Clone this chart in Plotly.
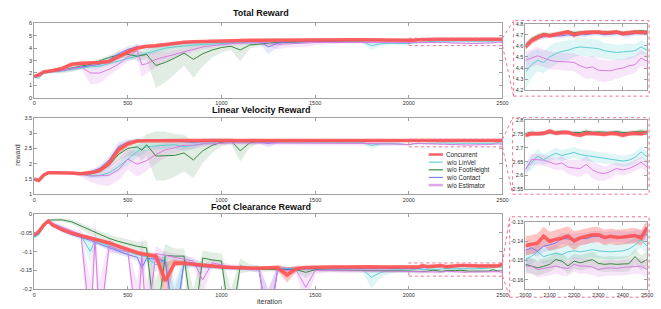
import plotly.graph_objects as go

W, H = 661, 309

# ---------------- data ----------------
iters_main = [0, 25, 50, 75, 100, 150, 200, 250, 300, 325, 350, 400, 450, 500, 550, 575] + list(range(600, 2000, 50))
iters_zoom = list(range(2000, 2501, 25))

methods = ["Concurrent", "w/o LinVel", "w/o FootHeight", "w/o Contact", "w/o Estimator"]

# Total Reward (main part 0..1950, zoom part 2000..2500)
tot_conc = [1.72, 1.85, 2.08, 2.12, 2.2, 2.37, 2.7, 2.78, 2.8, 2.82, 2.85, 2.92, 3.3, 3.7, 4.0, 4.08,
            4.15, 4.2, 4.3, 4.4, 4.47, 4.52, 4.55, 4.55, 4.57, 4.6, 4.62, 4.63, 4.64, 4.64, 4.65, 4.65,
            4.66, 4.66, 4.66, 4.66, 4.67, 4.67, 4.67, 4.67, 4.66, 4.65, 4.64, 4.62]
tot_linvel = [1.65, 1.6, 1.95, 2.05, 2.1, 2.2, 2.3, 2.45, 2.5, 2.52, 2.55, 2.75, 2.95, 3.2, 3.4, 3.5,
              3.55, 3.8, 4.0, 4.1, 4.2, 4.25, 4.3, 4.35, 4.4, 4.45, 4.45, 4.45, 4.5, 4.5, 4.5, 4.5,
              4.52, 4.52, 4.55, 4.55, 4.55, 4.57, 4.58, 4.55, 4.2, 4.35, 4.4, 4.38]
tot_foot = [1.75, 1.9, 2.05, 2.1, 2.15, 2.2, 2.4, 2.55, 2.7, 2.85, 3.0, 3.25, 3.45, 3.5, 3.35, 3.45,
            3.5, 2.6, 2.85, 3.2, 3.6, 3.1, 3.55, 3.85, 4.05, 4.15, 3.85, 4.25, 4.35, 4.4, 4.45, 4.48,
            4.5, 4.52, 4.55, 4.56, 4.58, 4.6, 4.6, 4.6, 4.61, 4.62, 4.62, 4.62]
tot_contact = [1.75, 1.9, 2.05, 2.08, 2.1, 2.2, 2.35, 2.5, 2.6, 2.65, 2.7, 3.05, 3.55, 3.9, 4.1, 4.1,
               4.05, 4.15, 4.25, 4.35, 4.4, 4.45, 4.45, 4.5, 4.5, 4.5, 4.55, 4.55, 4.55, 4.1, 4.4, 4.5,
               4.5, 4.55, 4.55, 4.56, 4.57, 4.58, 4.58, 4.6, 4.6, 4.6, 4.6, 4.6]
tot_est = [1.75, 1.9, 2.05, 2.08, 2.1, 2.2, 2.35, 2.5, 2.0, 2.0, 2.0, 2.3, 2.7, 3.3, 3.8, 2.65,
           2.75, 3.1, 3.3, 3.55, 3.75, 3.95, 4.1, 4.2, 4.3, 4.35, 4.4, 4.4, 4.45, 4.45, 4.3, 4.35,
           4.4, 4.4, 4.45, 4.45, 4.45, 4.5, 4.5, 4.5, 4.5, 4.5, 4.5, 4.48]

tot_conc_z = [4.59, 4.645, 4.675, 4.70, 4.69, 4.70, 4.71, 4.725, 4.70, 4.715, 4.72, 4.725, 4.725, 4.715, 4.72, 4.725, 4.71, 4.715, 4.725, 4.72, 4.72]
tot_linvel_z = [4.36, 4.43, 4.47, 4.45, 4.50, 4.53, 4.55, 4.56, 4.58, 4.59, 4.585, 4.58, 4.575, 4.555, 4.545, 4.54, 4.545, 4.55, 4.555, 4.59, 4.56]
tot_foot_z = [4.60, 4.66, 4.69, 4.71, 4.70, 4.71, 4.72, 4.73, 4.72, 4.725, 4.73, 4.73, 4.72, 4.73, 4.72, 4.73, 4.72, 4.725, 4.73, 4.735, 4.73]
tot_contact_z = [4.60, 4.65, 4.67, 4.68, 4.69, 4.69, 4.69, 4.70, 4.69, 4.70, 4.70, 4.71, 4.71, 4.70, 4.705, 4.71, 4.70, 4.70, 4.71, 4.71, 4.71]
tot_est_z = [4.47, 4.49, 4.51, 4.49, 4.47, 4.46, 4.46, 4.455, 4.45, 4.42, 4.40, 4.41, 4.38, 4.375, 4.375, 4.39, 4.40, 4.42, 4.43, 4.49, 4.46]

tot_conc_sd = [0.08, 0.08, 0.08, 0.08, 0.1, 0.15, 0.15, 0.12, 0.1, 0.1, 0.1, 0.15, 0.2, 0.25, 0.2, 0.15,
               0.12, 0.1, 0.1, 0.08, 0.08, 0.06, 0.06, 0.06, 0.06, 0.05, 0.05, 0.05, 0.05, 0.05, 0.05, 0.05,
               0.05, 0.05, 0.05, 0.05, 0.05, 0.05, 0.05, 0.05, 0.05, 0.05, 0.05, 0.05]
tot_linvel_sd = [0.08, 0.08, 0.08, 0.08, 0.1, 0.15, 0.15, 0.15, 0.15, 0.15, 0.15, 0.15, 0.2, 0.2, 0.2, 0.2,
                 0.2, 0.2, 0.2, 0.15, 0.15, 0.15, 0.12, 0.12, 0.1, 0.1, 0.1, 0.1, 0.1, 0.1, 0.1, 0.1,
                 0.1, 0.1, 0.1, 0.1, 0.1, 0.1, 0.1, 0.1, 0.35, 0.2, 0.15, 0.12]
tot_foot_sd = [0.05, 0.05, 0.08, 0.1, 0.15, 0.25, 0.3, 0.25, 0.2, 0.2, 0.2, 0.2, 0.25, 0.3, 0.4, 0.4,
               0.4, 1.8, 1.6, 1.3, 1.0, 1.5, 1.0, 0.6, 0.4, 0.3, 0.9, 0.3, 0.2, 0.15, 0.15, 0.12,
               0.12, 0.1, 0.1, 0.1, 0.1, 0.1, 0.08, 0.08, 0.08, 0.08, 0.08, 0.08]
tot_contact_sd = [0.08, 0.08, 0.08, 0.08, 0.1, 0.12, 0.12, 0.12, 0.12, 0.12, 0.15, 0.2, 0.25, 0.25, 0.2, 0.2,
                  0.2, 0.15, 0.12, 0.1, 0.1, 0.1, 0.1, 0.08, 0.08, 0.08, 0.08, 0.1, 0.15, 0.6, 0.3, 0.15,
                  0.1, 0.1, 0.08, 0.08, 0.08, 0.08, 0.08, 0.08, 0.08, 0.08, 0.08, 0.08]
tot_est_sd = [0.08, 0.08, 0.08, 0.08, 0.1, 0.12, 0.15, 0.2, 0.9, 0.9, 0.8, 0.5, 0.4, 0.4, 0.6, 1.0,
              0.8, 0.6, 0.4, 0.3, 0.3, 0.25, 0.2, 0.2, 0.15, 0.15, 0.15, 0.15, 0.15, 0.3, 0.4, 0.3,
              0.3, 0.3, 0.2, 0.15, 0.12, 0.1, 0.1, 0.1, 0.1, 0.1, 0.1, 0.1]

tot_conc_zsd = [0.03, 0.03, 0.03, 0.02, 0.02, 0.02, 0.02, 0.02, 0.025, 0.02, 0.02, 0.02, 0.02, 0.02, 0.02, 0.02, 0.02, 0.02, 0.02, 0.02, 0.02]
tot_linvel_zsd = [0.15, 0.12, 0.1, 0.1, 0.1, 0.1, 0.09, 0.09, 0.08, 0.08, 0.08, 0.08, 0.08, 0.07, 0.07, 0.07, 0.07, 0.07, 0.06, 0.06, 0.06]
tot_foot_zsd = [0.03, 0.025, 0.02, 0.02, 0.02, 0.02, 0.02, 0.015, 0.015, 0.015, 0.015, 0.015, 0.015, 0.015, 0.015, 0.015, 0.015, 0.015, 0.015, 0.015, 0.015]
tot_contact_zsd = [0.03, 0.025, 0.02, 0.02, 0.02, 0.02, 0.02, 0.02, 0.02, 0.02, 0.02, 0.02, 0.02, 0.02, 0.02, 0.02, 0.02, 0.02, 0.02, 0.02, 0.02]
tot_est_zsd = [0.08, 0.08, 0.08, 0.08, 0.08, 0.08, 0.08, 0.08, 0.08, 0.09, 0.1, 0.1, 0.1, 0.1, 0.09, 0.09, 0.08, 0.08, 0.08, 0.07, 0.07]

# Linear Velocity Reward
lin_conc = [1.5, 1.45, 1.62, 1.7, 1.7, 1.7, 1.69, 1.67, 1.7, 1.73, 1.78, 2.02, 2.45, 2.65, 2.74, 2.75,
            2.75, 2.75, 2.76, 2.76, 2.76, 2.76, 2.76, 2.76, 2.76, 2.76, 2.75, 2.75, 2.75, 2.75, 2.75, 2.75,
            2.75, 2.75, 2.75, 2.75, 2.75, 2.75, 2.75, 2.75, 2.75, 2.75, 2.75, 2.75]
lin_linvel = [1.45, 1.42, 1.6, 1.7, 1.7, 1.7, 1.68, 1.65, 1.6, 1.6, 1.62, 1.7, 1.9, 2.15, 2.4, 2.48,
              2.55, 2.58, 2.6, 2.62, 2.55, 2.6, 2.67, 2.7, 2.7, 2.7, 2.7, 2.7, 2.7, 2.7, 2.7, 2.7,
              2.7, 2.7, 2.7, 2.7, 2.7, 2.7, 2.7, 2.7, 2.6, 2.65, 2.66, 2.65]
lin_foot = [1.5, 1.45, 1.62, 1.7, 1.7, 1.7, 1.69, 1.67, 1.66, 1.7, 1.75, 1.95, 2.3, 2.5, 2.55, 2.44,
            2.62, 2.25, 2.25, 2.27, 2.35, 2.12, 2.42, 2.6, 2.7, 2.75, 2.42, 2.68, 2.74, 2.75, 2.75, 2.75,
            2.76, 2.76, 2.76, 2.76, 2.76, 2.76, 2.76, 2.76, 2.76, 2.76, 2.76, 2.76]
lin_contact = [1.5, 1.45, 1.62, 1.7, 1.7, 1.7, 1.69, 1.68, 1.72, 1.78, 1.85, 2.12, 2.55, 2.7, 2.75, 2.75,
               2.75, 2.75, 2.75, 2.75, 2.72, 2.7, 2.72, 2.74, 2.74, 2.75, 2.75, 2.75, 2.72, 2.66, 2.72, 2.74,
               2.74, 2.74, 2.74, 2.74, 2.74, 2.74, 2.74, 2.74, 2.74, 2.74, 2.74, 2.74]
lin_est = [1.5, 1.45, 1.62, 1.7, 1.7, 1.7, 1.69, 1.65, 1.6, 1.6, 1.6, 1.62, 1.8, 2.15, 1.98, 2.05,
           2.1, 2.3, 2.45, 2.52, 2.6, 2.6, 2.65, 2.65, 2.67, 2.68, 2.68, 2.68, 2.68, 2.66, 2.66, 2.66,
           2.66, 2.66, 2.66, 2.66, 2.66, 2.66, 2.66, 2.66, 2.66, 2.65, 2.65, 2.64]

lin_conc_z = [2.745, 2.75, 2.75, 2.752, 2.76, 2.752, 2.755, 2.755, 2.748, 2.745, 2.752, 2.752, 2.75, 2.748, 2.752, 2.75, 2.745, 2.75, 2.752, 2.75, 2.755]
lin_linvel_z = [2.625, 2.645, 2.67, 2.657, 2.67, 2.68, 2.672, 2.678, 2.683, 2.675, 2.672, 2.667, 2.665, 2.662, 2.66, 2.657, 2.652, 2.655, 2.665, 2.685, 2.667]
lin_foot_z = [2.75, 2.755, 2.75, 2.752, 2.755, 2.755, 2.758, 2.755, 2.755, 2.755, 2.76, 2.755, 2.757, 2.756, 2.755, 2.758, 2.755, 2.755, 2.758, 2.76, 2.758]
lin_contact_z = [2.745, 2.755, 2.75, 2.75, 2.755, 2.752, 2.755, 2.755, 2.752, 2.75, 2.752, 2.755, 2.75, 2.752, 2.752, 2.755, 2.75, 2.752, 2.752, 2.752, 2.755]
lin_est_z = [2.62, 2.657, 2.657, 2.655, 2.648, 2.64, 2.645, 2.63, 2.627, 2.625, 2.64, 2.62, 2.61, 2.607, 2.615, 2.625, 2.62, 2.625, 2.635, 2.648, 2.63]

lin_conc_sd = [0.03, 0.03, 0.03, 0.03, 0.03, 0.03, 0.03, 0.03, 0.04, 0.05, 0.06, 0.12, 0.15, 0.1, 0.05, 0.03,
               0.02, 0.02, 0.02, 0.02, 0.02, 0.02, 0.02, 0.02, 0.02, 0.03, 0.04, 0.02, 0.02, 0.02, 0.02, 0.02,
               0.02, 0.02, 0.02, 0.02, 0.02, 0.02, 0.02, 0.02, 0.02, 0.02, 0.02, 0.02]
lin_linvel_sd = [0.03, 0.03, 0.03, 0.03, 0.03, 0.04, 0.04, 0.05, 0.08, 0.08, 0.1, 0.12, 0.15, 0.2, 0.2, 0.2,
                 0.15, 0.12, 0.12, 0.12, 0.15, 0.12, 0.08, 0.06, 0.04, 0.04, 0.04, 0.04, 0.04, 0.04, 0.04, 0.04,
                 0.04, 0.04, 0.04, 0.04, 0.04, 0.04, 0.04, 0.04, 0.1, 0.06, 0.05, 0.04]
lin_foot_sd = [0.03, 0.03, 0.03, 0.03, 0.03, 0.03, 0.03, 0.04, 0.05, 0.06, 0.08, 0.12, 0.2, 0.25, 0.3, 0.35,
               0.35, 0.8, 0.8, 0.7, 0.6, 0.6, 0.4, 0.25, 0.15, 0.1, 0.35, 0.15, 0.08, 0.05, 0.03, 0.03,
               0.03, 0.03, 0.03, 0.03, 0.03, 0.03, 0.03, 0.03, 0.03, 0.03, 0.03, 0.03]
lin_contact_sd = [0.03, 0.03, 0.03, 0.03, 0.03, 0.03, 0.03, 0.03, 0.05, 0.08, 0.1, 0.15, 0.15, 0.1, 0.05, 0.04,
                  0.03, 0.03, 0.03, 0.03, 0.05, 0.06, 0.05, 0.04, 0.03, 0.03, 0.03, 0.03, 0.06, 0.12, 0.06, 0.03,
                  0.03, 0.03, 0.03, 0.03, 0.03, 0.03, 0.03, 0.03, 0.03, 0.03, 0.03, 0.03]
lin_est_sd = [0.03, 0.03, 0.03, 0.03, 0.03, 0.04, 0.05, 0.08, 0.2, 0.25, 0.3, 0.35, 0.35, 0.35, 0.4, 0.4,
              0.35, 0.3, 0.25, 0.2, 0.15, 0.12, 0.1, 0.08, 0.06, 0.06, 0.06, 0.06, 0.06, 0.06, 0.06, 0.06,
              0.06, 0.06, 0.06, 0.06, 0.06, 0.06, 0.06, 0.06, 0.06, 0.06, 0.06, 0.06]

lin_conc_zsd = [0.009, 0.008, 0.008, 0.008, 0.008, 0.008, 0.008, 0.008, 0.008, 0.008, 0.008, 0.008, 0.008, 0.008, 0.008, 0.008, 0.008, 0.008, 0.008, 0.008, 0.008]
lin_linvel_zsd = [0.02, 0.025, 0.025, 0.02, 0.02, 0.02, 0.02, 0.02, 0.02, 0.02, 0.02, 0.02, 0.02, 0.02, 0.02, 0.02, 0.02, 0.02, 0.02, 0.02, 0.02]
lin_foot_zsd = [0.008, 0.007, 0.007, 0.007, 0.007, 0.007, 0.007, 0.007, 0.007, 0.007, 0.007, 0.007, 0.007, 0.007, 0.007, 0.007, 0.007, 0.007, 0.007, 0.007, 0.007]
lin_contact_zsd = [0.008, 0.007, 0.007, 0.007, 0.007, 0.007, 0.007, 0.007, 0.007, 0.007, 0.007, 0.007, 0.007, 0.007, 0.007, 0.007, 0.007, 0.007, 0.007, 0.007, 0.007]
lin_est_zsd = [0.02, 0.02, 0.02, 0.02, 0.02, 0.02, 0.025, 0.025, 0.03, 0.03, 0.03, 0.03, 0.03, 0.025, 0.025, 0.02, 0.02, 0.02, 0.02, 0.02, 0.02]

# Foot Clearance Reward
foot_conc = [-0.056, -0.047, -0.03, -0.019, -0.03, -0.042, -0.051, -0.057, -0.063, -0.066, -0.069, -0.077, -0.086, -0.095, -0.103, -0.106,
             -0.108, -0.112, -0.178, -0.13, -0.131, -0.134, -0.137, -0.138, -0.141, -0.142, -0.143, -0.144, -0.144, -0.143, -0.143, -0.162,
             -0.145, -0.142, -0.141, -0.141, -0.141, -0.141, -0.14, -0.141, -0.14, -0.141, -0.141, -0.141]
foot_linvel = [-0.062, -0.055, -0.035, -0.02, -0.028, -0.04, -0.05, -0.058, -0.1, -0.07, -0.075, -0.085, -0.095, -0.1, -0.108, -0.112,
               -0.115, -0.135, -0.12, -0.3, -0.128, -0.13, -0.135, -0.14, -0.142, -0.143, -0.144, -0.145, -0.145, -0.145, -0.145, -0.145,
               -0.145, -0.145, -0.145, -0.145, -0.145, -0.145, -0.145, -0.145, -0.168, -0.155, -0.15, -0.148]
foot_foot = [-0.058, -0.045, -0.028, -0.017, -0.016, -0.016, -0.021, -0.032, -0.045, -0.05, -0.055, -0.065, -0.073, -0.08, -0.086, -0.088,
             -0.09, -0.3, -0.11, -0.112, -0.112, -0.3, -0.117, -0.122, -0.125, -0.3, -0.138, -0.143, -0.146, -0.147, -0.147, -0.148,
             -0.148, -0.155, -0.148, -0.149, -0.149, -0.15, -0.15, -0.15, -0.15, -0.15, -0.151, -0.151]
foot_contact = [-0.06, -0.052, -0.032, -0.02, -0.03, -0.045, -0.055, -0.062, -0.07, -0.075, -0.08, -0.09, -0.1, -0.108, -0.115, -0.143,
                -0.118, -0.12, -0.125, -0.3, -0.13, -0.135, -0.14, -0.14, -0.143, -0.145, -0.145, -0.146, -0.147, -0.3, -0.146, -0.146,
                -0.146, -0.146, -0.146, -0.146, -0.146, -0.146, -0.146, -0.146, -0.146, -0.146, -0.146, -0.146]
foot_est = [-0.058, -0.05, -0.03, -0.018, -0.025, -0.035, -0.045, -0.055, -0.3, -0.065, -0.3, -0.085, -0.095, -0.1, -0.3, -0.11,
            -0.3, -0.105, -0.11, -0.115, -0.12, -0.125, -0.175, -0.13, -0.135, -0.14, -0.14, -0.145, -0.145, -0.3, -0.148, -0.15,
            -0.15, -0.195, -0.15, -0.15, -0.15, -0.151, -0.151, -0.151, -0.152, -0.152, -0.152, -0.152]

foot_conc_z = [-0.1422, -0.1418, -0.1410, -0.1374, -0.1400, -0.1390, -0.1384, -0.1372, -0.1398, -0.1382, -0.1375, -0.1366, -0.1366, -0.1380, -0.1374, -0.1380, -0.1378, -0.1374, -0.1370, -0.1383, -0.1328]
foot_linvel_z = [-0.1495, -0.1478, -0.1455, -0.1480, -0.1470, -0.1462, -0.1470, -0.1455, -0.1450, -0.1455, -0.1450, -0.1443, -0.1450, -0.1452, -0.1455, -0.1452, -0.1450, -0.1440, -0.1420, -0.1392, -0.1426]
foot_foot_z = [-0.1520, -0.1529, -0.1538, -0.1530, -0.1520, -0.1495, -0.1503, -0.1528, -0.1503, -0.1512, -0.1505, -0.1495, -0.1515, -0.1520, -0.1517, -0.1520, -0.1518, -0.1517, -0.1480, -0.1512, -0.1495]
foot_contact_z = [-0.1448, -0.1434, -0.1452, -0.1426, -0.1418, -0.1409, -0.1385, -0.1388, -0.1391, -0.1386, -0.1386, -0.1376, -0.1374, -0.1383, -0.1378, -0.1374, -0.1378, -0.1380, -0.1372, -0.1370, -0.1366]
foot_est_z = [-0.1529, -0.1529, -0.1547, -0.1541, -0.1538, -0.1529, -0.1538, -0.1541, -0.1520, -0.1529, -0.1529, -0.1534, -0.1547, -0.1540, -0.1538, -0.1541, -0.1536, -0.1534, -0.1529, -0.1529, -0.1547]

foot_conc_sd = [0.004, 0.004, 0.004, 0.003, 0.004, 0.005, 0.005, 0.005, 0.005, 0.005, 0.005, 0.005, 0.005, 0.005, 0.006, 0.006,
                0.006, 0.008, 0.05, 0.01, 0.006, 0.005, 0.005, 0.005, 0.004, 0.004, 0.004, 0.004, 0.004, 0.004, 0.008, 0.02,
                0.008, 0.004, 0.004, 0.004, 0.004, 0.004, 0.004, 0.004, 0.004, 0.004, 0.004, 0.004]
foot_linvel_sd = [0.004, 0.004, 0.004, 0.003, 0.004, 0.005, 0.005, 0.005, 0.03, 0.01, 0.008, 0.008, 0.008, 0.008, 0.008, 0.01,
                  0.01, 0.02, 0.02, 0.12, 0.02, 0.01, 0.008, 0.006, 0.005, 0.005, 0.005, 0.005, 0.005, 0.005, 0.005, 0.005,
                  0.005, 0.005, 0.005, 0.005, 0.005, 0.005, 0.005, 0.005, 0.03, 0.015, 0.008, 0.006]
foot_foot_sd = [0.004, 0.004, 0.004, 0.003, 0.004, 0.005, 0.006, 0.008, 0.01, 0.01, 0.01, 0.01, 0.012, 0.012, 0.012, 0.015,
                0.02, 0.12, 0.03, 0.02, 0.02, 0.1, 0.02, 0.02, 0.02, 0.1, 0.02, 0.01, 0.008, 0.006, 0.006, 0.006,
                0.006, 0.015, 0.006, 0.005, 0.005, 0.005, 0.005, 0.005, 0.005, 0.005, 0.005, 0.005]
foot_contact_sd = [0.004, 0.004, 0.004, 0.003, 0.004, 0.005, 0.005, 0.005, 0.006, 0.006, 0.006, 0.008, 0.008, 0.008, 0.01, 0.02,
                   0.01, 0.01, 0.01, 0.1, 0.01, 0.008, 0.006, 0.006, 0.005, 0.005, 0.005, 0.005, 0.01, 0.1, 0.01, 0.005,
                   0.005, 0.005, 0.005, 0.005, 0.005, 0.005, 0.005, 0.005, 0.005, 0.005, 0.005, 0.005]
foot_est_sd = [0.004, 0.004, 0.004, 0.003, 0.004, 0.005, 0.006, 0.01, 0.12, 0.05, 0.12, 0.02, 0.01, 0.01, 0.12, 0.05,
               0.12, 0.02, 0.01, 0.01, 0.01, 0.01, 0.04, 0.01, 0.008, 0.006, 0.006, 0.006, 0.006, 0.1, 0.01, 0.008,
               0.01, 0.05, 0.01, 0.006, 0.005, 0.005, 0.005, 0.005, 0.005, 0.005, 0.005, 0.005]

foot_conc_zsd = [0.005, 0.005, 0.005, 0.005, 0.005, 0.005, 0.005, 0.005, 0.005, 0.004, 0.004, 0.004, 0.004, 0.004, 0.004, 0.004, 0.004, 0.004, 0.004, 0.004, 0.004]
foot_linvel_zsd = [0.004, 0.004, 0.004, 0.004, 0.004, 0.004, 0.004, 0.004, 0.004, 0.004, 0.004, 0.004, 0.004, 0.004, 0.004, 0.004, 0.004, 0.004, 0.004, 0.004, 0.004]
foot_foot_zsd = [0.004, 0.004, 0.004, 0.004, 0.004, 0.004, 0.004, 0.004, 0.004, 0.004, 0.004, 0.004, 0.004, 0.004, 0.004, 0.004, 0.004, 0.004, 0.004, 0.004, 0.004]
foot_contact_zsd = [0.003, 0.003, 0.003, 0.003, 0.003, 0.003, 0.003, 0.003, 0.003, 0.003, 0.003, 0.003, 0.003, 0.003, 0.003, 0.003, 0.003, 0.003, 0.003, 0.003, 0.003]
foot_est_zsd = [0.004, 0.004, 0.004, 0.004, 0.004, 0.004, 0.004, 0.004, 0.004, 0.004, 0.004, 0.004, 0.004, 0.004, 0.004, 0.004, 0.004, 0.004, 0.004, 0.004, 0.004]

# tick labels
main_x_ticks = [0, 500, 1000, 1500, 2000, 2500]
tot_y_ticks = [0, 1, 2, 3, 4, 5, 6]
lin_y_ticks = [1, 1.5, 2, 2.5, 3, 3.5]
foot_y_ticks = [0, -0.05, -0.1, -0.15, -0.2]
tot_zoom_ticks = [4.2, 4.3, 4.4, 4.5, 4.6, 4.7, 4.8]
lin_zoom_ticks = [2.55, 2.6, 2.65, 2.7, 2.75, 2.8]
foot_zoom_ticks = [-0.13, -0.14, -0.15, -0.16]
zoom_x_ticks = [2000, 2100, 2200, 2300, 2400, 2500]

# ---------------- style ----------------
line_colors = ["rgba(255,85,85,0.92)", "rgb(95,205,210)", "rgb(55,135,65)", "rgb(120,120,240)", "rgb(215,125,225)"]
legend_colors = ["rgb(245,95,105)", "rgb(110,210,210)", "rgb(60,140,70)", "rgb(130,130,240)", "rgb(225,165,235)"]
band_colors = ["rgba(255,85,85,0.35)", "rgba(95,205,210,0.2)", "rgba(55,135,65,0.15)", "rgba(120,120,240,0.18)", "rgba(215,125,225,0.2)"]
line_widths = [3.5, 1, 1, 1, 1]
PINK = "rgb(240,110,145)"

panels = [
    dict(title="Total Reward",
         main=[tot_conc, tot_linvel, tot_foot, tot_contact, tot_est],
         zoom=[tot_conc_z, tot_linvel_z, tot_foot_z, tot_contact_z, tot_est_z],
         main_sd=[tot_conc_sd, tot_linvel_sd, tot_foot_sd, tot_contact_sd, tot_est_sd],
         zoom_sd=[tot_conc_zsd, tot_linvel_zsd, tot_foot_zsd, tot_contact_zsd, tot_est_zsd],
         yr=[0, 6], yt=tot_y_ticks, zr=[4.2, 4.8], zt=tot_zoom_ticks,
         main_dom=[0.687, 0.933], zoom_dom=[0.712, 0.932], box=(517, 18, 655, 95), title_y=10.5, zxlab=False),
    dict(title="Linear Velocity Reward",
         main=[lin_conc, lin_linvel, lin_foot, lin_contact, lin_est],
         zoom=[lin_conc_z, lin_linvel_z, lin_foot_z, lin_contact_z, lin_est_z],
         main_sd=[lin_conc_sd, lin_linvel_sd, lin_foot_sd, lin_contact_sd, lin_est_sd],
         zoom_sd=[lin_conc_zsd, lin_linvel_zsd, lin_foot_zsd, lin_contact_zsd, lin_est_zsd],
         yr=[1, 3.5], yt=lin_y_ticks, zr=[2.55, 2.8], zt=lin_zoom_ticks,
         main_dom=[0.369, 0.621], zoom_dom=[0.385, 0.614], box=(516, 117, 655, 195), title_y=109.5, zxlab=False),
    dict(title="Foot Clearance Reward",
         main=[foot_conc, foot_linvel, foot_foot, foot_contact, foot_est],
         zoom=[foot_conc_z, foot_linvel_z, foot_foot_z, foot_contact_z, foot_est_z],
         main_sd=[foot_conc_sd, foot_linvel_sd, foot_foot_sd, foot_contact_sd, foot_est_sd],
         zoom_sd=[foot_conc_zsd, foot_linvel_zsd, foot_foot_zsd, foot_contact_zsd, foot_est_zsd],
         yr=[-0.2, 0], yt=foot_y_ticks, zr=[-0.165, -0.13], zt=foot_zoom_ticks,
         main_dom=[0.055, 0.304], zoom_dom=[0.055, 0.277], box=(513, 218, 655, 300), title_y=208.5, zxlab=True),
]

for p in panels:
    for arr in p["main"] + p["main_sd"]:
        if len(arr) != len(iters_main):
            raise ValueError(f"{p['title']}: main length {len(arr)}")
    for arr in p["zoom"] + p["zoom_sd"]:
        if len(arr) != len(iters_zoom):
            raise ValueError(f"{p['title']}: zoom length {len(arr)}")

MAIN_X = [0.0434, 0.765]
ZOOM_X = [0.8003, 0.9879]


def fmt(v):
    return f"{v:g}"


fig = go.Figure()
draw_order = [1, 2, 3, 4, 0]
for i, p in enumerate(panels):
    ax_main = 2 * i + 1
    ax_zoom = 2 * i + 2
    for kind in ("main", "zoom"):
        if kind == "main":
            xs = iters_main + iters_zoom
            axn = ax_main
        else:
            xs = iters_zoom
            axn = ax_zoom
        xref = "x" if axn == 1 else f"x{axn}"
        yref = "y" if axn == 1 else f"y{axn}"
        series = []
        for m in range(5):
            if kind == "main":
                ys = p["main"][m] + p["zoom"][m]
                sd = p["main_sd"][m] + p["zoom_sd"][m]
            else:
                ys = p["zoom"][m]
                sd = p["zoom_sd"][m]
            series.append((ys, sd))
        for m in draw_order:
            ys, sd = series[m]
            up = [a + b for a, b in zip(ys, sd)]
            lo = [a - b for a, b in zip(ys, sd)]
            fig.add_trace(go.Scatter(x=xs + xs[::-1], y=up + lo[::-1], fill="toself",
                                     fillcolor=band_colors[m], line=dict(width=0), mode="lines",
                                     hoverinfo="skip", showlegend=False, xaxis=xref, yaxis=yref))
        for m in draw_order:
            ys, sd = series[m]
            fig.add_trace(go.Scatter(x=xs, y=ys, mode="lines", name=methods[m],
                                     line=dict(color=line_colors[m], width=line_widths[m]),
                                     showlegend=False, xaxis=xref, yaxis=yref))

axis_style = dict(showline=True, linecolor="#a0a0a0", linewidth=1, mirror="ticks", ticks="inside",
                  ticklen=3, tickcolor="#a0a0a0", tickwidth=1, showgrid=False, zeroline=False,
                  tickfont=dict(family="Liberation Sans", size=5.5, color="#333333"), fixedrange=True)

layout_axes = {}
shapes = []
annotations = []


def pap_x(px):
    return px / W


def pap_y(py):
    return 1 - py / H


for i, p in enumerate(panels):
    am, az = 2 * i + 1, 2 * i + 2
    kxm = "xaxis" if am == 1 else f"xaxis{am}"
    kym = "yaxis" if am == 1 else f"yaxis{am}"
    layout_axes[kxm] = dict(axis_style, domain=MAIN_X, range=[0, 2500], tickvals=main_x_ticks,
                            ticktext=[str(v) for v in main_x_ticks], anchor=f"y{am}" if am > 1 else "y")
    layout_axes[kym] = dict(axis_style, domain=p["main_dom"], range=p["yr"], tickvals=p["yt"],
                            ticktext=[fmt(v) for v in p["yt"]], anchor=f"x{am}" if am > 1 else "x")
    layout_axes[f"xaxis{az}"] = dict(axis_style, domain=ZOOM_X, range=[2000, 2500], tickvals=zoom_x_ticks,
                                     ticktext=[str(v) for v in zoom_x_ticks], showticklabels=p["zxlab"],
                                     anchor=f"y{az}")
    layout_axes[f"yaxis{az}"] = dict(axis_style, domain=p["zoom_dom"], range=p["zr"], tickvals=p["zt"],
                                     ticktext=[fmt(v) for v in p["zt"]], anchor=f"x{az}")

    xr = "x" if am == 1 else f"x{am}"
    yr = "y" if am == 1 else f"y{am}"
    shapes.append(dict(type="rect", xref=xr, yref=yr, x0=2000, x1=2500, y0=p["zr"][0], y1=p["zr"][1],
                       line=dict(color=PINK, width=1, dash="dot"), layer="above"))
    bx0, by0, bx1, by1 = p["box"]
    shapes.append(dict(type="rect", xref="paper", yref="paper", x0=pap_x(bx0), x1=pap_x(bx1),
                       y0=pap_y(by1), y1=pap_y(by0), line=dict(color=PINK, width=1, dash="dot")))
    d0, d1 = p["main_dom"]
    r0, r1 = p["yr"]

    def vy(v, d0=d0, d1=d1, r0=r0, r1=r1):
        return d0 + (v - r0) / (r1 - r0) * (d1 - d0)
    shapes.append(dict(type="line", xref="paper", yref="paper", x0=MAIN_X[1], y0=vy(p["zr"][1]),
                       x1=pap_x(bx0), y1=pap_y(by0), line=dict(color=PINK, width=1, dash="dot")))
    shapes.append(dict(type="line", xref="paper", yref="paper", x0=MAIN_X[1], y0=vy(p["zr"][0]),
                       x1=pap_x(bx0), y1=pap_y(by1), line=dict(color=PINK, width=1, dash="dot")))
    annotations.append(dict(text=f"<b>{p['title']}</b>", xref="paper", yref="paper", x=pap_x(260),
                            y=pap_y(p["title_y"]), xanchor="center", yanchor="middle", showarrow=False,
                            font=dict(family="Liberation Sans", size=9, color="#111111")))

annotations.append(dict(text="reward", xref="paper", yref="paper", x=pap_x(12), y=pap_y(155), textangle=-90,
                        xanchor="center", yanchor="middle", showarrow=False,
                        font=dict(family="Liberation Sans", size=7, color="#333333")))
annotations.append(dict(text="iteration", xref="paper", yref="paper", x=pap_x(268), y=pap_y(304),
                        xanchor="center", yanchor="middle", showarrow=False,
                        font=dict(family="Liberation Sans", size=7, color="#333333")))

legend_rows = [154.5, 162.3, 170.1, 177.9, 185.7]
for m, row in enumerate(legend_rows):
    shapes.append(dict(type="line", xref="paper", yref="paper", x0=pap_x(430.5), x1=pap_x(445),
                       y0=pap_y(row), y1=pap_y(row),
                       line=dict(color=legend_colors[m], width=2.5 if m in (0, 4) else 1.2)))
    annotations.append(dict(text=methods[m], xref="paper", yref="paper", x=pap_x(446.5), y=pap_y(row),
                            xanchor="left", yanchor="middle", showarrow=False,
                            font=dict(family="Liberation Sans", size=6.3, color="#222222")))

fig.update_layout(width=W, height=H, margin=dict(l=0, r=0, t=0, b=0), paper_bgcolor="white",
                  plot_bgcolor="white", showlegend=False, shapes=shapes, annotations=annotations,
                  **layout_axes)

fig.write_html("out.html", config={"displayModeBar": False, "staticPlot": True},
               post_script="document.body.style.margin='0';document.body.style.padding='0';document.body.style.overflow='hidden';")
